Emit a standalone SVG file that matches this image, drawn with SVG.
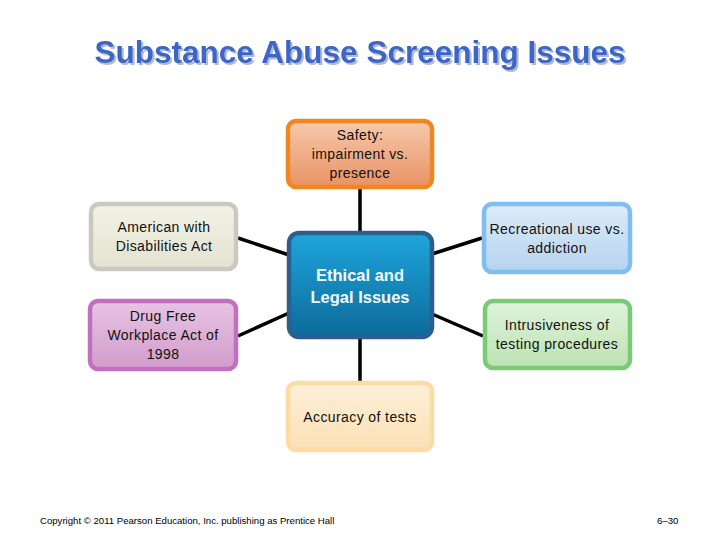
<svg xmlns="http://www.w3.org/2000/svg" width="720" height="540" viewBox="0 0 720 540">
<defs>
<linearGradient id="gOr" x1="0" y1="0" x2="0" y2="1"><stop offset="0" stop-color="#f6c9ad"/><stop offset="1" stop-color="#e99263"/></linearGradient>
<linearGradient id="gGr" x1="0" y1="0" x2="0" y2="1"><stop offset="0" stop-color="#f2f2e6"/><stop offset="1" stop-color="#e3e3d2"/></linearGradient>
<linearGradient id="gBl" x1="0" y1="0" x2="0" y2="1"><stop offset="0" stop-color="#dcecfa"/><stop offset="1" stop-color="#b5d3ef"/></linearGradient>
<linearGradient id="gCt" x1="0" y1="0" x2="0" y2="1"><stop offset="0" stop-color="#1ea6dc"/><stop offset="1" stop-color="#0d6a9a"/></linearGradient>
<linearGradient id="gPu" x1="0" y1="0" x2="0" y2="1"><stop offset="0" stop-color="#e8c4e4"/><stop offset="1" stop-color="#d19ccb"/></linearGradient>
<linearGradient id="gGn" x1="0" y1="0" x2="0" y2="1"><stop offset="0" stop-color="#dff3da"/><stop offset="1" stop-color="#bde2b4"/></linearGradient>
<linearGradient id="gYe" x1="0" y1="0" x2="0" y2="1"><stop offset="0" stop-color="#fdf0d8"/><stop offset="1" stop-color="#fbe0b4"/></linearGradient>
<filter id="shadow" x="-5%" y="-20%" width="110%" height="150%">
<feDropShadow dx="2" dy="2" stdDeviation="0.6" flood-color="#a9b4c8" flood-opacity="0.9"/>
</filter>
</defs>
<style>
.box{stroke-width:4.5}
.t{font-family:"Liberation Sans",Arial,sans-serif;font-size:14px;fill:#111;text-anchor:middle;letter-spacing:0.4px}
.c{font-family:"Liberation Sans",Arial,sans-serif;font-size:16.5px;font-weight:bold;fill:#f2fbff;text-anchor:middle}
.ln{stroke:#000;stroke-width:3.5;fill:none}
.title{font-family:"Liberation Sans",Arial,sans-serif;font-size:31.5px;font-weight:bold;fill:#3a66c6;text-anchor:middle}
.ft{font-family:"Liberation Sans",Arial,sans-serif;font-size:9.6px;fill:#000}
</style>
<rect width="720" height="540" fill="#fff"/>
<g id="title">
<text class="title" x="360" y="63" filter="url(#shadow)">Substance Abuse Screening Issues</text>
</g>
<g id="connectors">
<line class="ln" x1="360" y1="189" x2="360" y2="233"/>
<line class="ln" x1="238" y1="238" x2="289" y2="255"/>
<line class="ln" x1="482" y1="238" x2="432" y2="254"/>
<line class="ln" x1="238" y1="336" x2="289" y2="313"/>
<line class="ln" x1="483" y1="336" x2="432" y2="314"/>
<line class="ln" x1="360" y1="337" x2="360" y2="383"/>
</g>
<g id="safety">
<rect class="box" x="288" y="121" width="144" height="66" rx="8" fill="url(#gOr)" stroke="#ef861f"/>
<text class="t" x="360" y="140">Safety:</text>
<text class="t" x="360" y="159">impairment vs.</text>
<text class="t" x="360" y="178">presence</text>
</g>
<g id="ada">
<rect class="box" x="91" y="204" width="145" height="65" rx="8" fill="url(#gGr)" stroke="#c9c9c2"/>
<text class="t" x="164" y="232">American with</text>
<text class="t" x="164" y="251">Disabilities Act</text>
</g>
<g id="recreational">
<rect class="box" x="484" y="204" width="146" height="68" rx="8" fill="url(#gBl)" stroke="#7fbdf2"/>
<text class="t" x="557" y="234">Recreational use vs.</text>
<text class="t" x="557" y="253">addiction</text>
</g>
<g id="center">
<rect x="289" y="233" width="143" height="104" rx="10" fill="url(#gCt)" stroke="#2d5f8e" stroke-width="4.5"/>
<text class="c" x="360" y="281">Ethical and</text>
<text class="c" x="360" y="303">Legal Issues</text>
</g>
<g id="drugfree">
<rect class="box" x="90" y="301" width="146" height="68" rx="8" fill="url(#gPu)" stroke="#c26fc0"/>
<text class="t" x="163" y="321">Drug Free</text>
<text class="t" x="163" y="340">Workplace Act of</text>
<text class="t" x="163" y="359">1998</text>
</g>
<g id="intrusiveness">
<rect class="box" x="485" y="301" width="145" height="67" rx="8" fill="url(#gGn)" stroke="#79cb76"/>
<text class="t" x="557" y="330">Intrusiveness of</text>
<text class="t" x="557" y="349">testing procedures</text>
</g>
<g id="accuracy">
<rect class="box" x="288" y="383" width="144" height="67" rx="8" fill="url(#gYe)" stroke="#fcdca2"/>
<text class="t" x="360" y="422">Accuracy of tests</text>
</g>
<g id="footer">
<text class="ft" x="40" y="524">Copyright © 2011 Pearson Education, Inc. publishing as Prentice Hall</text>
<text class="ft" x="657" y="524">6–30</text>
</g>
</svg>
